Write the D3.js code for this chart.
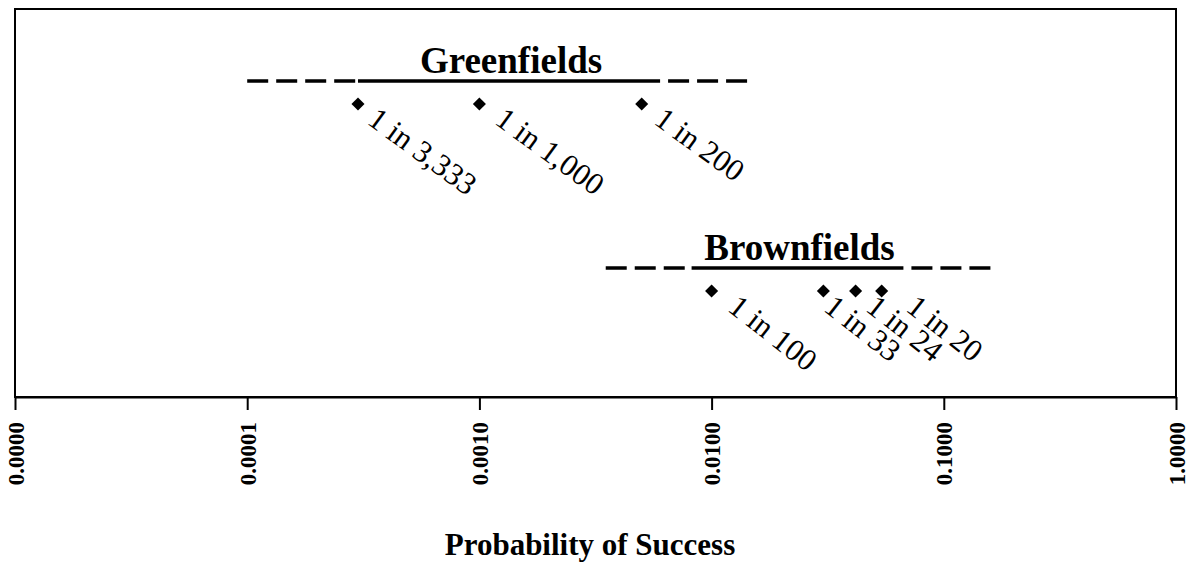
<!DOCTYPE html>
<html>
<head>
<meta charset="utf-8">
<script src="https://cdn.jsdelivr.net/npm/d3@7"></script>
<style>
  body { margin: 0; background: #fff; }
  svg { display: block; }
  text { font-family: "Liberation Serif", "Times New Roman", serif; fill: #000; }
</style>
</head>
<body>
<svg width="1191" height="563"></svg>
<script>
// Data
const groups = ["Greenfields", "Brownfields"];
const dashRanges = [[0.0001, 0.0145], [0.0035, 0.16]];
const solidRanges = [[0.0003, 0.006], [0.0082, 0.067]];
const pointValues = [[0.0003, 0.001, 0.005], [0.01, 0.0303, 0.0417, 0.054]];
const pointLabels = [["1 in 3,333", "1 in 1,000", "1 in 200"], ["1 in 100", "1 in 33", "1 in 24", "1 in 20"]];
const tickValues = [0.00001, 0.0001, 0.001, 0.01, 0.1, 1];

// Layout
const plot = { left: 15, top: 9, right: 1176, bottom: 397 };
const lineY = [81, 268];
// hand-placed label nudges (px), as in the original figure
const labelDx = [[8, 14, 11], [15, -1, 9, 23]];
const labelAngle = [36, 38];

const svg = d3.select("svg");

const x = d3.scaleLog()
  .domain([0.00001, 1])
  .range([plot.left, plot.right]);

// frame
svg.append("rect")
  .attr("x", plot.left)
  .attr("y", plot.top)
  .attr("width", plot.right - plot.left)
  .attr("height", plot.bottom - plot.top)
  .attr("fill", "none")
  .attr("stroke", "#000")
  .attr("stroke-width", 2);

// x axis
const xAxis = svg.append("g")
  .attr("transform", `translate(0,${plot.bottom})`)
  .call(d3.axisBottom(x).tickValues(tickValues).tickSize(13).tickSizeOuter(0).tickFormat(d => d.toFixed(4)));

xAxis.select(".domain").attr("stroke-width", 2);
xAxis.selectAll(".tick line").attr("stroke-width", 2);
xAxis.selectAll(".tick text")
  .attr("transform", "translate(0,25) rotate(-90)")
  .attr("x", 0)
  .attr("y", 0)
  .attr("dy", "0.35em")
  .attr("text-anchor", "end")
  .style("font-family", "'Liberation Serif', serif")
  .style("font-size", "23px")
  .style("font-weight", "bold");

svg.append("text")
  .attr("x", 590)
  .attr("y", 555)
  .attr("text-anchor", "middle")
  .style("font-size", "31px")
  .style("font-weight", "bold")
  .text("Probability of Success");

// groups
groups.forEach((name, i) => {
  const g = svg.append("g");
  const y = lineY[i];
  const [d0, d1] = dashRanges[i];
  const [s0, s1] = solidRanges[i];

  // dashed left part
  g.append("line")
    .attr("x1", x(d0)).attr("x2", x(s0))
    .attr("y1", y).attr("y2", y)
    .attr("stroke", "#000").attr("stroke-width", 3.5)
    .attr("stroke-dasharray", "21,8");

  // dashed right part, starting with a gap
  g.append("line")
    .attr("x1", x(s1)).attr("x2", x(d1))
    .attr("y1", y).attr("y2", y)
    .attr("stroke", "#000").attr("stroke-width", 3.5)
    .attr("stroke-dasharray", "21,8")
    .attr("stroke-dashoffset", 21);

  // solid part
  g.append("line")
    .attr("x1", x(s0)).attr("x2", x(s1))
    .attr("y1", y).attr("y2", y)
    .attr("stroke", "#000").attr("stroke-width", 3.5);

  // title
  g.append("text")
    .attr("x", (x(s0) + x(s1)) / 2 + 2)
    .attr("y", y - 8)
    .attr("text-anchor", "middle")
    .style("font-size", "37px")
    .style("font-weight", "bold")
    .text(name);

  const pts = pointValues[i].map((v, j) => ({ v, label: pointLabels[i][j], dx: labelDx[i][j] }));

  g.selectAll("path.pt")
    .data(pts)
    .enter().append("path")
      .attr("class", "pt")
      .attr("d", d3.symbol(d3.symbolSquare, 85))
      .attr("transform", d => `translate(${x(d.v)},${y + 23}) rotate(45)`)
      .attr("fill", "#000");

  g.selectAll("text.lbl")
    .data(pts)
    .enter().append("text")
      .attr("class", "lbl")
      .attr("transform", d => `translate(${x(d.v) + d.dx},${y + 42}) rotate(${labelAngle[i]})`)
      .style("font-size", "31px")
      .text(d => d.label);
});
</script>
</body>
</html>
